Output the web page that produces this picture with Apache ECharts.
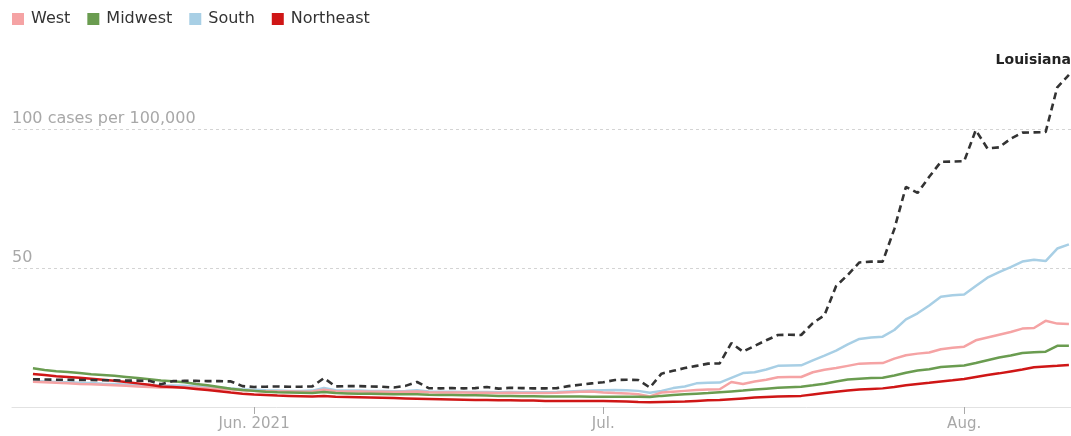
<!DOCTYPE html>
<html>
<head>
<meta charset="utf-8">
<script src="https://cdn.jsdelivr.net/npm/echarts@6/dist/echarts.min.js"></script>
<style>
html,body{margin:0;padding:0;background:#fff;}
#chart{width:1071px;height:436px;}
</style>
</head>
<body>
<div id="chart"></div>
<script>
// First day of the series (7-day averages, one point per day)
const startDate = [2021, 4, 13]; // May 13, 2021
const monthTickLabels = { 5: 'Jun. 2021', 6: 'Jul.', 7: 'Aug.' };
const yTickLabels = { 50: '50', 100: '100 cases per 100,000' };
const regionNames = ['West', 'Midwest', 'South', 'Northeast'];
const highlightName = 'Louisiana';

const west = [9.1,8.9,8.7,8.5,8.3,8.2,8.0,7.8,7.6,7.4,7.2,7.0,7.1,7.0,6.9,6.7,6.5,6.3,6.0,5.8,
  5.7,5.6,5.6,5.5,5.6,6.2,5.7,5.6,5.6,5.5,5.5,5.4,5.5,5.6,5.3,5.2,5.2,5.2,5.1,5.1,
  5.0,5.1,5.0,5.0,5.0,5.1,5.3,5.5,5.6,5.2,5.0,4.9,4.6,3.8,5.2,5.5,5.8,6.1,6.3,6.4,
  9.0,8.3,9.2,9.8,10.7,10.8,10.8,12.5,13.4,14.0,14.8,15.6,15.7,15.8,17.4,18.6,19.2,19.6,20.8,21.3,
  21.7,24.0,25.0,26.0,27.0,28.2,28.4,31.0,30.0,29.9];
const midwest = [13.9,13.3,12.9,12.6,12.2,11.8,11.5,11.2,10.8,10.4,10.0,9.5,9.3,8.9,8.3,7.8,7.2,6.6,6.1,5.8,
  5.5,5.3,5.2,5.1,5.0,5.4,5.0,4.9,4.8,4.8,4.7,4.6,4.6,4.6,4.4,4.3,4.3,4.2,4.2,4.1,
  4.0,4.0,3.9,3.9,3.8,3.8,3.8,3.8,3.7,3.7,3.7,3.7,3.7,3.6,4.0,4.3,4.6,4.8,5.0,5.3,
  5.6,5.9,6.3,6.6,6.9,7.1,7.3,7.8,8.4,9.2,9.9,10.2,10.4,10.5,11.3,12.3,13.1,13.6,14.4,14.7,
  14.9,15.8,16.8,17.8,18.5,19.4,19.7,19.9,22.0,22.0];
const south = [9.4,9.2,9.0,8.9,8.7,8.6,8.4,8.3,8.1,8.0,7.8,7.6,7.7,7.6,7.4,7.2,7.0,6.7,6.4,6.2,
  6.0,5.9,5.8,5.8,5.9,6.8,6.0,5.9,5.9,5.8,5.8,5.7,5.8,6.0,5.6,5.5,5.5,5.4,5.4,5.4,
  5.3,5.4,5.3,5.3,5.3,5.4,5.6,5.8,5.9,6.0,6.1,6.0,5.8,5.1,5.8,6.8,7.4,8.5,8.7,8.8,
  10.5,12.2,12.5,13.5,14.8,14.9,15.0,16.8,18.5,20.3,22.5,24.5,25.0,25.3,27.7,31.5,33.7,36.5,39.7,40.2,
  40.5,43.5,46.5,48.5,50.3,52.3,53.0,52.5,57.0,58.5];
const northeast = [11.9,11.5,11.1,10.8,10.5,10.2,9.8,9.4,9.0,8.5,8.0,7.4,7.2,6.9,6.5,6.1,5.7,5.2,4.8,4.5,
  4.3,4.1,4.0,3.9,3.8,4.0,3.7,3.6,3.5,3.4,3.3,3.2,3.1,3.0,2.9,2.8,2.7,2.6,2.5,2.5,
  2.4,2.4,2.3,2.3,2.2,2.2,2.2,2.2,2.2,2.2,2.1,2.0,1.8,1.7,1.8,1.9,2.0,2.2,2.4,2.5,
  2.8,3.1,3.4,3.6,3.8,3.9,4.0,4.5,5.0,5.5,5.9,6.3,6.5,6.7,7.2,7.8,8.3,8.7,9.2,9.6,
  10.1,10.8,11.5,12.1,12.8,13.5,14.3,14.6,14.8,15.1];
const louisiana = [10.0,9.9,9.8,9.8,9.7,9.7,9.6,9.6,9.5,9.5,9.4,8.2,9.3,9.4,9.4,9.3,9.3,9.2,7.5,7.2,
  7.3,7.4,7.3,7.3,7.4,10.4,7.4,7.5,7.5,7.4,7.3,7.0,7.6,9.0,6.8,6.7,6.8,6.7,6.8,7.2,
  6.6,6.9,6.8,6.7,6.7,6.8,7.5,8.0,8.5,8.9,9.7,9.8,9.7,7.0,12.0,13.0,14.0,14.8,15.6,15.7,
  23.0,19.9,22.0,24.0,25.9,26.0,25.9,30.2,33.0,43.5,47.5,52.0,52.3,52.3,64.0,79.2,77.0,82.8,88.2,88.3,
  88.4,99.6,93.0,93.4,96.5,98.7,98.8,98.9,115.0,119.5];

const DAY = 86400000;
const t0 = Date.UTC(startDate[0], startDate[1], startDate[2]);
function pairs(arr) { return arr.map((v, i) => [t0 + i * DAY, v]); }

const FONT = 'DejaVu Sans';
const colors = { West: '#f5a3a4', Midwest: '#6a9c50', South: '#a8cfe5', Northeast: '#cf1616' };

function regionSeries(name, data, z) {
  return {
    name: name, type: 'line', data: pairs(data), showSymbol: false, symbol: 'none',
    z: z, lineStyle: { width: 2.5, color: colors[name] }, itemStyle: { color: colors[name] },
    emphasis: { disabled: true }, animation: false
  };
}

const chart = echarts.init(document.getElementById('chart'), null, { renderer: 'canvas' });
chart.setOption({
  useUTC: true,
  animation: false,
  textStyle: { fontFamily: FONT },
  legend: {
    data: regionNames,
    left: 12, top: 11, padding: 0,
    icon: 'rect', itemWidth: 12, itemHeight: 12, itemGap: 17,
    textStyle: { fontFamily: FONT, fontSize: 16, color: '#333', padding: [0, 0, 0, 2] },
    selectedMode: false
  },
  grid: { left: 12, right: 0, top: 45.6, bottom: 29, containLabel: false },
  xAxis: {
    type: 'time',
    min: t0 - 1.8 * DAY,
    max: t0 + 89.18 * DAY,
    minInterval: 28 * DAY,
    maxInterval: 31 * DAY,
    axisLine: { show: true, lineStyle: { color: '#e2e2e2', width: 1 } },
    axisTick: { show: true, length: 7, lineStyle: { color: '#aaa' } },
    splitLine: { show: false },
    axisLabel: {
      showMinLabel: false, showMaxLabel: false,
      fontFamily: FONT, fontSize: 15, color: '#a8a8a8', margin: 10,
      formatter: function (v) {
        const d = new Date(v);
        if (d.getUTCDate() !== 1) return '';
        return monthTickLabels[d.getUTCMonth()] || '';
      }
    }
  },
  yAxis: {
    type: 'value', min: 0, max: 130, interval: 50,
    axisLine: { show: false }, axisTick: { show: false },
    splitLine: { show: true, showMinLine: false, showMaxLine: false,
      lineStyle: { color: '#d4d4d4', type: [3, 3], width: 1 } },
    axisLabel: {
      inside: true, margin: 0, verticalAlign: 'bottom', align: 'left',
      padding: [0, 0, 2, 0],
      fontFamily: FONT, fontSize: 16, color: '#a8a8a8',
      showMaxLabel: false,
      formatter: function (v) { return yTickLabels[v] || ''; }
    }
  },
  series: [
    regionSeries('South', south, 2),
    regionSeries('West', west, 3),
    regionSeries('Midwest', midwest, 4),
    regionSeries('Northeast', northeast, 5),
    {
      name: highlightName, type: 'line', data: pairs(louisiana), showSymbol: false, symbol: 'none',
      z: 10, lineStyle: { width: 2.6, color: '#333', type: [7, 4.5] },
      itemStyle: { color: '#333' }, emphasis: { disabled: true },
      endLabel: {
        show: true, formatter: highlightName, align: 'right', verticalAlign: 'bottom',
        distance: 0, offset: [2, -7],
        fontFamily: FONT, fontSize: 14, fontWeight: 'bold', color: '#222'
      }
    }
  ]
});
</script>
</body>
</html>
